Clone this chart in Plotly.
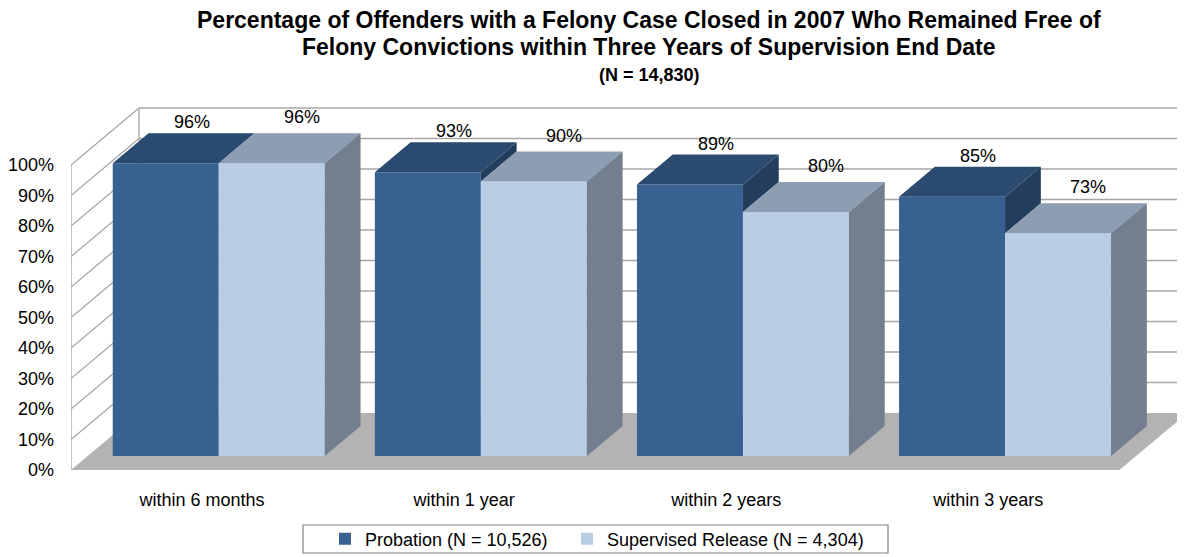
import plotly.graph_objects as go

# ---------------- data ----------------
categories = ["within 6 months", "within 1 year", "within 2 years", "within 3 years"]
probation = [96, 93, 89, 85]
supervised = [96, 90, 80, 73]
series_names = ["Probation (N = 10,526)", "Supervised Release (N = 4,304)"]
y_ticks = [0, 10, 20, 30, 40, 50, 60, 70, 80, 90, 100]
y_ticktext = [f"{t}%" for t in y_ticks]
title_lines = [
    "Percentage of Offenders with a Felony Case Closed in 2007 Who Remained Free of",
    "Felony Convictions within Three Years of Supervision End Date",
    "(N = 14,830)",
]

# ---------------- geometry (layout constants) ----------------
W, H = 1185, 557
SH = 8                     # page body margin compensation (px)
ML = 71 - SH
MT = 100 - SH
MB = H - (470 - SH)
MR = 0
PX_X = 262.1               # px per category unit
PX_Y = 3.05                # px per percentage point
XR = (-0.5, -0.5 + (W - ML - MR) / PX_X)
YMAX = (H - MT - MB) / PX_Y

DX = 68 / PX_X          # full depth shift in x units
DY = 57 / PX_Y          # full depth shift in y units
Z0 = 14 / 57            # depth of bar fronts
ZD = 30 / 57            # bar depth
BW = 106 / PX_X         # bar width
BASE = Z0 * DY
OFF = Z0 * DX

FONT = "Liberation Sans, Arial, sans-serif"
colors = {
    "prob": ("#386192", "#2b4a70", "#233d5d"),
    "sup": ("#b9cde5", "#8d9db2", "#737f8f"),
}

fig = go.Figure()

xs = list(range(len(categories)))
fig.add_trace(go.Bar(x=xs, y=probation, base=BASE, width=BW, offset=OFF - BW,
                     marker=dict(color=colors["prob"][0], line=dict(width=0)),
                     name=series_names[0], hoverinfo="skip", legend="legend"))
fig.add_trace(go.Bar(x=xs, y=supervised, base=BASE, width=BW, offset=OFF,
                     marker=dict(color=colors["sup"][0], line=dict(width=0)),
                     name=series_names[1], hoverinfo="skip", legend="legend2"))

ddx, ddy = ZD * DX, ZD * DY


def poly_trace(polys, color):
    px, py = [], []
    for p in polys:
        for (a, b) in p:
            px.append(a)
            py.append(b)
        px.append(p[0][0]); py.append(p[0][1])
        px.append(None); py.append(None)
    return go.Scatter(x=px, y=py, mode="lines", fill="toself", fillcolor=color,
                      line=dict(width=0, color=color), showlegend=False, hoverinfo="skip")


tops_p, tops_s, sides_p, sides_s = [], [], [], []
for i, (vp, vs) in enumerate(zip(probation, supervised)):
    xl_p = i + OFF - BW
    xr_p = i + OFF
    xl_s = xr_p
    xr_s = xr_p + BW
    tp = BASE + vp
    ts = BASE + vs
    tops_p.append([(xl_p, tp), (xr_p, tp), (xr_p + ddx, tp + ddy), (xl_p + ddx, tp + ddy)])
    tops_s.append([(xl_s, ts), (xr_s, ts), (xr_s + ddx, ts + ddy), (xl_s + ddx, ts + ddy)])
    if vp > vs:
        sides_p.append([(xr_p, ts), (xr_p, tp), (xr_p + ddx, tp + ddy), (xr_p + ddx, ts + ddy)])
    sides_s.append([(xr_s, BASE), (xr_s, ts), (xr_s + ddx, ts + ddy), (xr_s + ddx, BASE + ddy)])

fig.add_trace(poly_trace(sides_p, colors["prob"][2]))
fig.add_trace(poly_trace(tops_p, colors["prob"][1]))
fig.add_trace(poly_trace(tops_s, colors["sup"][1]))
fig.add_trace(poly_trace(sides_s, colors["sup"][2]))

# data labels (offsets from front-top centre, px)
LBL = {"prob": (26 / PX_X, 41 / PX_Y), "sup": (30 / PX_X, 46 / PX_Y)}
annotations = []
for i, (vp, vs) in enumerate(zip(probation, supervised)):
    for key, v, cx in (("prob", vp, i + OFF - BW / 2), ("sup", vs, i + OFF + BW / 2)):
        ldx, ldy = LBL[key]
        annotations.append(dict(x=cx + ldx, y=BASE + v + ldy, xref="x", yref="y",
                                text=f"{v}%", showarrow=False,
                                font=dict(family=FONT, size=18, color="#000000"),
                                xanchor="center", yanchor="middle"))

# walls, floor, gridlines
shapes = []
x_front_l = -0.5
x_front_r = len(categories) - 0.5
GRID = "#a6a6a6"
shapes.append(dict(type="path", xref="x", yref="y", layer="below",
                   path=f"M {x_front_l},0 L {x_front_r},0 L {x_front_r + DX},{DY} L {x_front_l + DX},{DY} Z",
                   fillcolor="#b3b3b3", line=dict(width=0)))
shapes.append(dict(type="rect", xref="x", yref="y", layer="below",
                   x0=x_front_l + DX, x1=x_front_r + DX, y0=DY, y1=DY + y_ticks[-1],
                   fillcolor="#ffffff", line=dict(width=0)))
for k in y_ticks[1:]:
    shapes.append(dict(type="line", xref="x", yref="y", layer="below",
                       x0=x_front_l, y0=k, x1=x_front_l + DX, y1=k + DY,
                       line=dict(color=GRID, width=1.3)))
    shapes.append(dict(type="line", xref="x", yref="y", layer="below",
                       x0=x_front_l + DX, y0=k + DY, x1=x_front_r + DX, y1=k + DY,
                       line=dict(color=GRID, width=1.3)))
shapes.append(dict(type="line", xref="x", yref="y", layer="below",
                   x0=x_front_l, y0=0, x1=x_front_l, y1=y_ticks[-1],
                   line=dict(color=GRID, width=1.3)))
shapes.append(dict(type="line", xref="x", yref="y", layer="below",
                   x0=x_front_l + DX, y0=DY, x1=x_front_l + DX, y1=DY + y_ticks[-1],
                   line=dict(color=GRID, width=1.3)))
shapes.append(dict(type="line", xref="x", yref="y", layer="below",
                   x0=x_front_r + DX, y0=DY, x1=x_front_r + DX, y1=DY + y_ticks[-1],
                   line=dict(color=GRID, width=1.3)))


def px2paper_x(p):
    return (p - SH - ML) / (W - ML - MR)


def px2paper_y(p):
    return (H - MB - (p - SH)) / (H - MT - MB)


# legend box
shapes.append(dict(type="rect", xref="paper", yref="paper",
                   x0=px2paper_x(303), x1=px2paper_x(888), y0=px2paper_y(553), y1=px2paper_y(525),
                   line=dict(color="#808080", width=1.2), fillcolor="rgba(0,0,0,0)"))

# titles
for txt, py, size in ((title_lines[0], 20, 23), (title_lines[1], 47, 23), (title_lines[2], 75, 18)):
    annotations.append(dict(x=px2paper_x(649), y=px2paper_y(py), xref="paper", yref="paper",
                            text=f"<b>{txt}</b>", showarrow=False,
                            font=dict(family=FONT, size=size, color="#000000"),
                            xanchor="center", yanchor="middle"))

legend_common = dict(orientation="h", xanchor="left", yanchor="middle",
                     font=dict(family=FONT, size=18, color="#000000"),
                     bgcolor="rgba(0,0,0,0)", borderwidth=0)

fig.update_layout(
    width=W, height=H,
    margin=dict(l=ML, r=MR, t=MT, b=MB, pad=0),
    paper_bgcolor="#ffffff", plot_bgcolor="#ffffff",
    barmode="overlay",
    showlegend=True,
    legend=dict(x=px2paper_x(325), y=px2paper_y(539), **legend_common),
    legend2=dict(x=px2paper_x(567), y=px2paper_y(539), **legend_common),
    shapes=shapes,
    annotations=annotations,
    xaxis=dict(range=list(XR), tickvals=xs, ticktext=categories, showgrid=False,
               zeroline=False, showline=False, ticks="", ticklabelstandoff=17,
               tickfont=dict(family=FONT, size=18, color="#000000"), fixedrange=True),
    yaxis=dict(range=[0, YMAX], tickvals=y_ticks, ticktext=y_ticktext, showgrid=False,
               zeroline=False, showline=False, ticks="", ticklabelstandoff=16,
               tickfont=dict(family=FONT, size=18, color="#000000"), fixedrange=True),
)

fig.write_html("out.html")
